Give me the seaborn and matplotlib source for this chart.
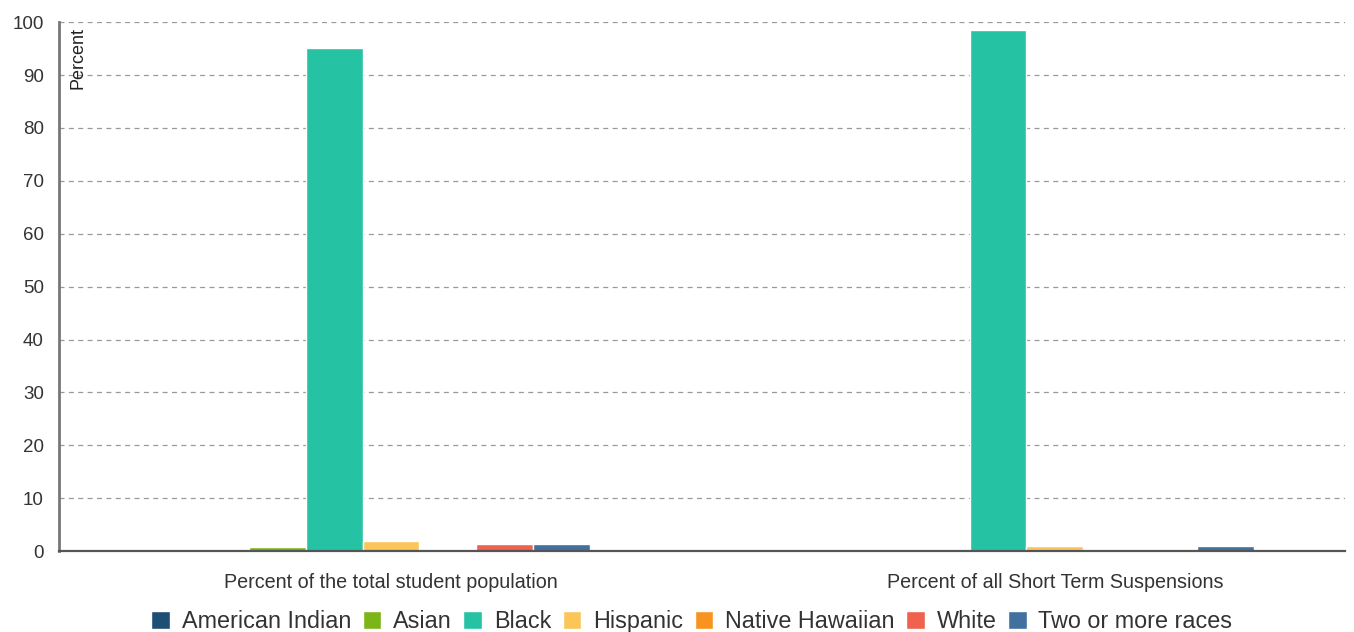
import pandas as pd
import seaborn as sns
import matplotlib.pyplot as plt
from matplotlib.patches import Patch

# Dades del gràfic
categories = ["Percent of the total student population", "Percent of all Short Term Suspensions"]
races = ["American Indian", "Asian", "Black", "Hispanic", "Native Hawaiian", "White", "Two or more races"]
population = [0, 0.7, 95.1, 1.9, 0, 1.4, 1.4]
suspensions = [0, 0, 98.5, 0.9, 0, 0, 1.0]
colors = ["#1d4e73", "#7cb518", "#26c2a4", "#fbc55a", "#f7931e", "#f0624d", "#42719f"]

rows = []
for race, p, s in zip(races, population, suspensions):
    rows.append({"category": categories[0], "race": race, "value": p})
    rows.append({"category": categories[1], "race": race, "value": s})
df = pd.DataFrame(rows)

sns.set_style("white")
plt.rcParams["font.family"] = ["Liberation Sans", "DejaVu Sans"]

fig = plt.figure(figsize=(13.54, 6.32), dpi=100)
ax = fig.add_axes([0.0436, 0.128, 0.9498, 0.837])

sns.barplot(data=df, x="category", y="value", hue="race", order=categories,
            hue_order=races, palette=colors, width=0.6, gap=0, ax=ax,
            saturation=1, legend=False)

ax.set_xlim(-0.5, 1.437)
ax.set_ylim(0, 100)
ax.set_yticks(range(0, 101, 10))
ax.grid(axis="y", linestyle=(0, (4, 3.5)), color="#999999", linewidth=0.9)
ax.set_axisbelow(True)
for side in ["top", "right"]:
    ax.spines[side].set_visible(False)
ax.spines["left"].set_color("#777777")
ax.spines["left"].set_linewidth(2)
ax.spines["bottom"].set_color("#555555")
ax.spines["bottom"].set_linewidth(1.6)
ax.tick_params(axis="y", length=0, labelsize=13.5, colors="#333333", pad=11)
ax.tick_params(axis="x", length=0, labelsize=14.2, colors="#333333", pad=16)
ax.set_xlabel("")
ax.set_ylabel("")
ax.text(0.008, 0.99, "Percent", transform=ax.transAxes, rotation=90,
        ha="left", va="top", fontsize=13, color="#222222")

handles = [Patch(facecolor=c, label=r) for c, r in zip(colors, races)]
fig.legend(handles=handles, loc="lower center", bbox_to_anchor=(0.511, -0.035),
           ncol=7, frameon=False, fontsize=16.8, handlelength=0.8,
           handleheight=0.8, handletextpad=0.5, columnspacing=0.5,
           labelcolor="#333333")

fig.savefig("out.png", dpi=100)
